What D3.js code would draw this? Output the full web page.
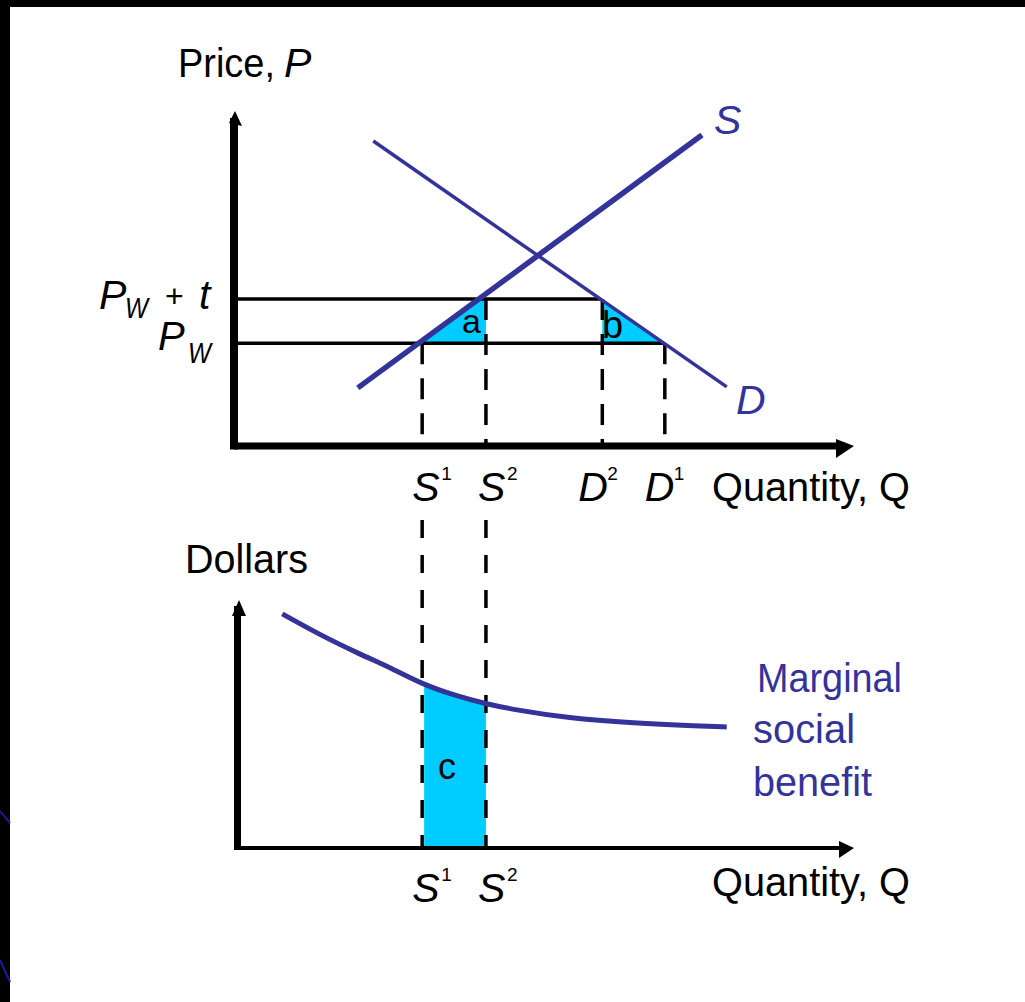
<!DOCTYPE html>
<html lang="en">
<head>
<meta charset="UTF-8">
<title>Tariff: supply, demand and marginal social benefit</title>
<script src="https://cdn.jsdelivr.net/npm/d3@7"></script>
<style>
  body { margin: 0; background: #fff; }
  svg text { font-family: "Liberation Sans", Arial, sans-serif; }
  .it { font-style: italic; }
</style>
</head>
<body>
<script>
// ---- values (quantity / price units, 0..10) ----
const quantityNames = ["S1", "S2", "D2", "D1"];
const quantityLevels = [3.04, 4.07, 5.95, 6.96];   // S1, S2, D2, D1
const priceNames = ["Pw", "Pw + t"];
const priceLevels = [3.08, 4.40];                  // Pw, Pw + t
const supplyLine = [[2.00, 1.74], [7.56, 9.31]];
const demandLine = [[2.25, 9.13], [7.96, 1.77]];
// marginal social benefit (quantity, dollars)
const msbQ = [0.78, 1.39, 2.03, 2.57, 3.04, 3.54, 4.07, 4.57, 5.38, 6.45, 7.53, 7.96];
const msbD = [9.44, 8.59, 7.82, 7.22, 6.61, 6.17, 5.81, 5.56, 5.24, 5.04, 4.92, 4.88];

const width = 1025, height = 1002;
const blue = "#333399", cyan = "#00ccff";

const x = d3.scaleLinear().domain([0, 10]).range([234, 853]);
const yTop = d3.scaleLinear().domain([0, 10]).range([446, 112]);
const yBot = d3.scaleLinear().domain([0, 10]).range([848, 600]);

const [S1, S2, D2, D1] = quantityLevels;
const [Pw, Pwt] = priceLevels;

// quantity on a straight line for a given price
const qAt = (line, p) => {
  const [[q0, p0], [q1, p1]] = line;
  return q0 + (p - p0) * (q1 - q0) / (p1 - p0);
};

const svg = d3.select("body").append("svg")
  .attr("width", width).attr("height", height);

svg.append("rect").attr("width", width).attr("height", height).attr("fill", "#fff");
// black frame on top and left
svg.append("rect").attr("x", 0).attr("y", 0).attr("width", width).attr("height", 7).attr("fill", "#000");
svg.append("rect").attr("x", 0).attr("y", 0).attr("width", 10).attr("height", height).attr("fill", "#000");
svg.append("line").attr("x1", 0).attr("y1", 811).attr("x2", 10).attr("y2", 823)
  .attr("stroke", "#1a1a9a").attr("stroke-width", 2);
svg.append("line").attr("x1", 0).attr("y1", 960).attr("x2", 10).attr("y2", 982)
  .attr("stroke", "#1a1a9a").attr("stroke-width", 2);

// ================= top chart =================
const upper = svg.append("g");

// area a (supply side) and b (demand side)
const areaA = [[qAt(supplyLine, Pw), Pw], [qAt(supplyLine, Pwt), Pwt], [S2, Pwt], [S2, Pw]];
const areaB = [[qAt(demandLine, Pwt), Pwt], [D2, Pwt], [D2, Pw], [qAt(demandLine, Pw), Pw]];
upper.selectAll("polygon.fill")
  .data([areaA, areaB])
  .join("polygon")
  .attr("class", "fill")
  .attr("points", d => d.map(p => [x(p[0]), yTop(p[1])].join(",")).join(" "))
  .attr("fill", cyan);

// price lines
upper.selectAll("line.price")
  .data([[Pw, qAt(demandLine, Pw)], [Pwt, qAt(demandLine, Pwt)]])
  .join("line")
  .attr("class", "price")
  .attr("x1", x(0) + 4).attr("x2", d => x(d[1]))
  .attr("y1", d => yTop(d[0])).attr("y2", d => yTop(d[0]))
  .attr("stroke", "#000").attr("stroke-width", 3.5);

// dashed drops to the quantity axis
const dropPrice = [Pw, Pwt, Pwt, Pw];
upper.selectAll("line.drop")
  .data(quantityLevels)
  .join("line")
  .attr("class", "drop")
  .attr("x1", d => x(d)).attr("x2", d => x(d))
  .attr("y1", (d, i) => yTop(dropPrice[i])).attr("y2", yTop(0) - 3)
  .attr("stroke", "#000").attr("stroke-width", 3.5)
  .attr("stroke-dasharray", "21,14");

// axes
upper.append("line").attr("x1", x(0)).attr("x2", x(10) - 8)
  .attr("y1", yTop(0)).attr("y2", yTop(0)).attr("stroke", "#000").attr("stroke-width", 7);
upper.append("line").attr("x1", x(0)).attr("x2", x(0))
  .attr("y1", yTop(0) + 3.5).attr("y2", yTop(10) + 6).attr("stroke", "#000").attr("stroke-width", 8);
upper.append("polygon").attr("points", "836,439 854,446 836,458").attr("fill", "#000");
upper.append("polygon").attr("points", "229,123 235,111 242,126").attr("fill", "#000");

// supply and demand
upper.append("line")
  .attr("x1", x(supplyLine[0][0])).attr("y1", yTop(supplyLine[0][1]))
  .attr("x2", x(supplyLine[1][0])).attr("y2", yTop(supplyLine[1][1]))
  .attr("stroke", blue).attr("stroke-width", 5.5);
upper.append("line")
  .attr("x1", x(demandLine[0][0])).attr("y1", yTop(demandLine[0][1]))
  .attr("x2", x(demandLine[1][0])).attr("y2", yTop(demandLine[1][1]))
  .attr("stroke", blue).attr("stroke-width", 3.5);

// ================= bottom chart =================
const lower = svg.append("g");
const msb = msbQ.map((q, i) => [q, msbD[i]]);

lower.append("clipPath").attr("id", "cband")
  .append("rect")
  .attr("x", x(S1) + 2).attr("y", yBot(10))
  .attr("width", x(S2) - x(S1) - 2).attr("height", yBot(0) - yBot(10));

lower.append("path")
  .datum(msb)
  .attr("clip-path", "url(#cband)")
  .attr("fill", cyan)
  .attr("d", d3.area().curve(d3.curveBasis)
    .x(d => x(d[0])).y0(yBot(0)).y1(d => yBot(d[1])));

// dashed lines carried down from the top chart
lower.selectAll("line.drop")
  .data([S1, S2])
  .join("line")
  .attr("class", "drop")
  .attr("x1", d => x(d)).attr("x2", d => x(d))
  .attr("y1", 520).attr("y2", yBot(0))
  .attr("stroke", "#000").attr("stroke-width", 3.5)
  .attr("stroke-dasharray", "18,17");

lower.append("line").attr("x1", x(0)).attr("x2", x(10) - 8)
  .attr("y1", yBot(0)).attr("y2", yBot(0)).attr("stroke", "#000").attr("stroke-width", 4);
lower.append("line").attr("x1", x(0) + 3.5).attr("x2", x(0) + 3.5)
  .attr("y1", yBot(0) + 2).attr("y2", yBot(10) + 6).attr("stroke", "#000").attr("stroke-width", 7);
lower.append("polygon").attr("points", "839,841 854,848 839,858").attr("fill", "#000");
lower.append("polygon").attr("points", "232,616 239,600 246,616").attr("fill", "#000");

lower.append("path")
  .datum(msb)
  .attr("fill", "none")
  .attr("stroke", blue).attr("stroke-width", 5)
  .attr("d", d3.line().curve(d3.curveBasis).x(d => x(d[0])).y(d => yBot(d[1])));

// ================= text =================
const txt = (g, s, px, py, size, opts = {}) => {
  const t = g.append("text").attr("x", px).attr("y", py)
    .attr("font-size", size).attr("fill", opts.fill || "#000").text(s);
  if (opts.italic) t.attr("class", "it");
  if (opts.len) t.attr("textLength", opts.len).attr("lengthAdjust", "spacingAndGlyphs");
  return t;
};

txt(svg, "Price,", 178, 77, 41, { len: 97 });
txt(svg, "P", 284, 77, 41, { italic: true });

// Pw + t  and  Pw
txt(svg, "P", 99, 309, 41, { italic: true });
txt(svg, "W", 125, 318, 29, { italic: true, len: 23 });
txt(svg, "+", 165, 307, 32);
txt(svg, "t", 199, 309, 41, { italic: true });
txt(svg, "P", 158, 350, 40, { italic: true });
txt(svg, "W", 188, 363, 29, { italic: true, len: 23 });

txt(svg, "S", 714, 134, 41, { italic: true, fill: blue });
txt(svg, "D", 736, 414, 41, { italic: true, fill: blue });
txt(svg, "a", 462, 333, 34);
txt(svg, "b", 602, 338, 38);
txt(svg, "c", 438, 779, 36);

// quantity markers under both charts
const markOffset = [-10, -8, -24, -20];
const markLetters = quantityNames.map(n => n[0]);
const markSubs = quantityNames.map(n => n[1]);
[501, 902].forEach((base, row) => {
  quantityLevels.forEach((q, i) => {
    if (row === 1 && i > 1) return;
    txt(svg, markLetters[i], x(q) + markOffset[i], base, 41, { italic: true });
    txt(svg, markSubs[i], x(q) + markOffset[i] + 29, base - 21, 19);
  });
});
txt(svg, "Quantity, Q", 712, 501, 41, { len: 198 });
txt(svg, "Quantity, Q", 712, 896, 41, { len: 198 });

txt(svg, "Dollars", 185, 573, 41, { len: 123 });
txt(svg, "Marginal", 757, 692, 41, { len: 145, fill: blue });
txt(svg, "social", 753, 743, 41, { len: 102, fill: blue });
txt(svg, "benefit", 753, 796, 41, { len: 119, fill: blue });
</script>
</body>
</html>
